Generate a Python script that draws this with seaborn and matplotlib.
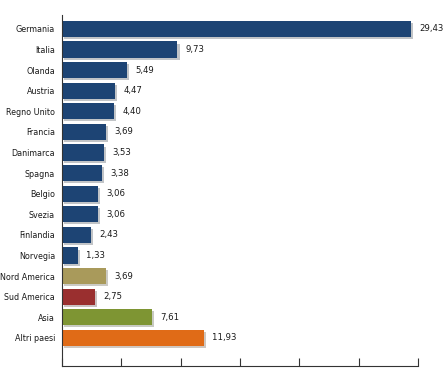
import matplotlib
matplotlib.use("Agg")
import matplotlib.pyplot as plt
import matplotlib.patheffects as pe
import seaborn as sns
import pandas as pd

categories = ["Germania", "Italia", "Olanda", "Austria", "Regno Unito", "Francia",
              "Danimarca", "Spagna", "Belgio", "Svezia", "Finlandia", "Norvegia",
              "Nord America", "Sud America", "Asia", "Altri paesi"]
values = [29.43, 9.73, 5.49, 4.47, 4.40, 3.69, 3.53, 3.38, 3.06, 3.06, 2.43, 1.33,
          3.69, 2.75, 7.61, 11.93]
navy = "#1d4474"
colors = [navy] * 12 + ["#a99a5b", "#9a2f2f", "#7e9533", "#e06b17"]

sns.set_style("white")
plt.rcParams['font.family'] = ['DejaVu Sans']
plt.rcParams['font.stretch'] = 'condensed'

df = pd.DataFrame({"cat": categories, "val": values})
fig = plt.figure(figsize=(4.46, 3.73), dpi=100)
ax = fig.add_axes([0.139, 0.019, 0.798, 0.941])
sns.barplot(data=df, x="val", y="cat", hue="cat", palette=colors, orient="h",
            width=0.78, legend=False, ax=ax, saturation=1, linewidth=0)
for p in ax.patches:
    p.set_path_effects([pe.SimplePatchShadow(offset=(1.5, -1.5), alpha=0.25), pe.Normal()])
for i, v in enumerate(values):
    ax.text(v + 0.7, i, f"{v:.2f}".replace(".", ","), va="center", ha="left",
            fontsize=6.8, fontstretch="condensed", color="#1a1a1a")
ax.set_xlim(0, 30)
ax.set_ylim(16.36, -0.68)
ax.set_xticks(range(0, 31, 5))
ax.set_xticklabels([])
ax.tick_params(axis="x", direction="in", length=6, width=0.8, color="#333333", bottom=True)
ax.tick_params(axis="y", length=0, labelsize=6.4, pad=5, labelcolor="#1a1a1a")
for lbl in ax.get_yticklabels():
    lbl.set_fontstretch("condensed")
ax.set_xlabel("")
ax.set_ylabel("")
for s in ["top", "right"]:
    ax.spines[s].set_visible(False)
for s in ["left", "bottom"]:
    ax.spines[s].set_color("#333333")
    ax.spines[s].set_linewidth(0.8)
fig.savefig("out.png", dpi=100)
